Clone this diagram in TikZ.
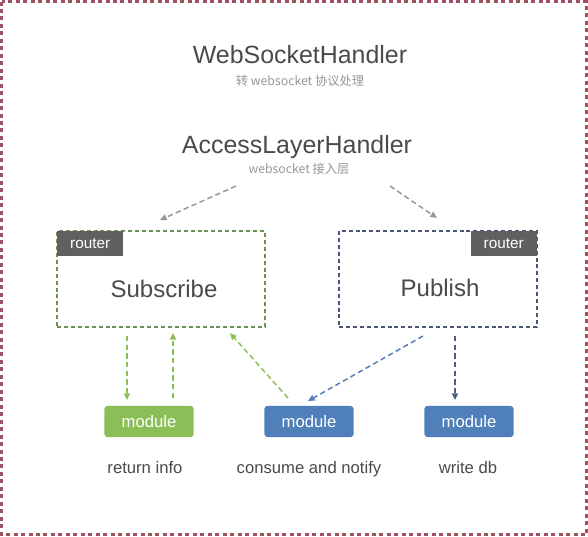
\documentclass[tikz,border=0pt]{standalone}
\usepackage{fontspec}
\setmainfont{Liberation Sans}
\newfontfamily\cjk{Noto Sans CJK SC}
\usetikzlibrary{arrows.meta}
\definecolor{frameRed}{RGB}{158,82,96}
\definecolor{textDark}{RGB}{74,74,74}
\definecolor{textLight}{RGB}{150,150,150}
\definecolor{greenLine}{RGB}{108,146,88}
\definecolor{greenFill}{RGB}{139,190,86}
\definecolor{navyLine}{RGB}{74,85,120}
\definecolor{blueFill}{RGB}{80,128,186}
\definecolor{blueArrow}{RGB}{88,124,185}
\definecolor{tagGray}{RGB}{96,96,96}
\tikzstyle{handlerText}=[text = textDark, font = \fontsize{18.7}{20}\selectfont, anchor = base, inner sep = 0pt]
\tikzstyle{noteText}=[text = textLight, font = \cjk\fontsize{9.2}{10}\selectfont, anchor = base, inner sep = 0pt]
\tikzstyle{routerBox}=[shape = rectangle, line width = 1.5pt, dash pattern = on 3pt off 2.2pt, minimum height = 72pt]
\tikzstyle{routerTag}=[shape = rectangle, fill = tagGray, text = white, font = \fontsize{11.5}{12}\selectfont, minimum width = 49.5pt, minimum height = 18.75pt, inner sep = 0pt]
\tikzstyle{moduleBox}=[shape = rectangle, rounded corners = 2.5pt, text = white, font = \fontsize{12.5}{13}\selectfont, minimum width = 67pt, minimum height = 23.5pt, inner sep = 0pt]
\tikzstyle{caption}=[text = textDark, font = \fontsize{12.5}{14}\selectfont, anchor = base, inner sep = 0pt]
\tikzstyle{flow}=[line width = 1.1pt, dash pattern = on 4pt off 2.5pt, -{Triangle[length = 5pt, width = 4.5pt]}]

\begin{document}
\begin{tikzpicture}[x = 0.75pt, y = -0.75pt]
\useasboundingbox (0,0) rectangle (588,536);
\draw[frameRed, line width = 2.2pt, dash pattern = on 3pt off 2.6pt] (1.5,1.5) rectangle (586.5,534.5);
\node[handlerText] (ws) at (300,63) {WebSocketHandler};
\node[noteText] (wsNote) at (300,85) {转 websocket 协议处理};
\node[handlerText] (access) at (297,153) {AccessLayerHandler};
\node[noteText] (accessNote) at (299,173) {websocket 接入层};
\node[routerBox, draw = greenLine, minimum width = 156pt] (sub) at (161,279) {};
\node[routerBox, draw = navyLine, minimum width = 148.5pt] (pub) at (438,279) {};
\node[routerTag, anchor = north west] (subTag) at (57,231) {router};
\node[routerTag, anchor = north east] (pubTag) at (537,231) {router};
\node[handlerText, font = \fontsize{18}{20}\selectfont] (subName) at (164,297) {Subscribe};
\node[handlerText, font = \fontsize{18}{20}\selectfont] (pubName) at (440,296) {Publish};
\node[moduleBox, fill = greenFill] (modInfo) at (149,421.5) {module};
\node[moduleBox, fill = blueFill] (modNotify) at (309,421.5) {module};
\node[moduleBox, fill = blueFill] (modDb) at (469,421.5) {module};
\node[caption] (capInfo) at (145,473) {return info};
\node[caption] (capNotify) at (309,473) {consume and notify};
\node[caption] (capDb) at (468,473) {write db};
\coordinate (accL) at (236,186);
\coordinate (accR) at (390,186);
\coordinate (subIn) at (160,220);
\coordinate (pubIn) at (437,218);
\draw[flow, textLight] (accL) -- (subIn);
\draw[flow, textLight] (accR) -- (pubIn);
\draw[flow, greenFill] (127,336) -- (127,400);
\draw[flow, greenFill] (173,398) -- (173,333);
\draw[flow, greenFill] (288,398) -- (230,333);
\draw[flow, blueArrow] (423,336) -- (308,401);
\draw[flow, navyLine!80!blueArrow] (455,336) -- (455,400);
\end{tikzpicture}
\end{document}
